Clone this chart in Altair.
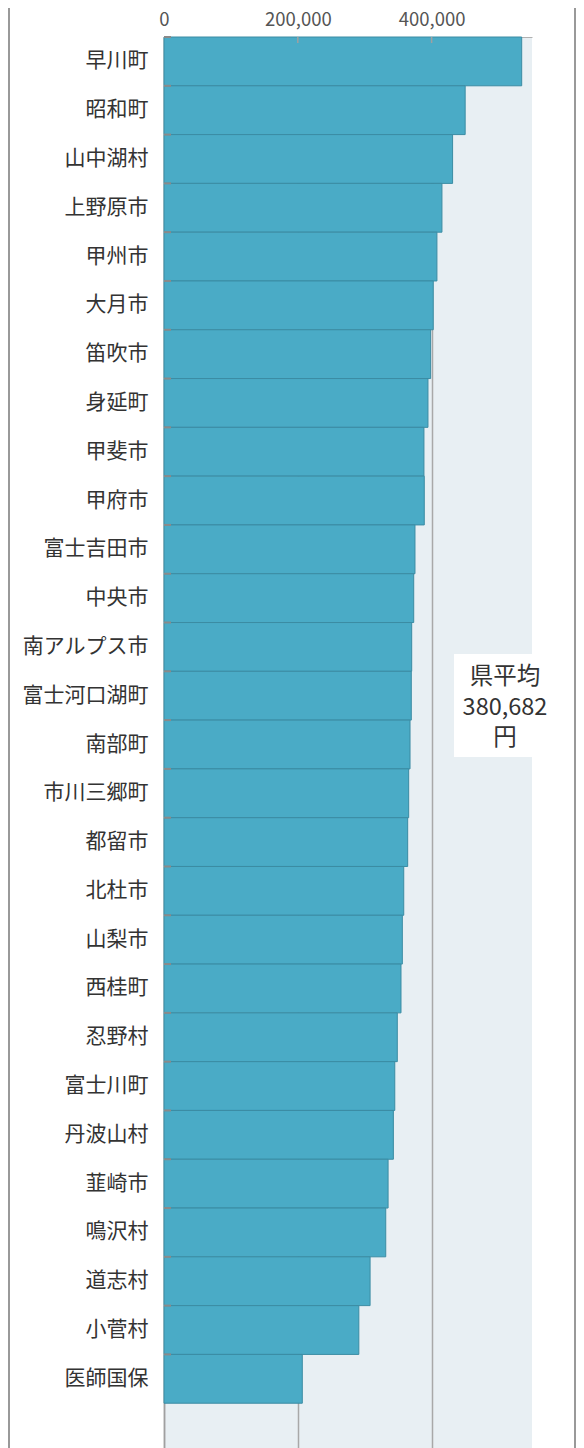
import altair as alt
import pandas as pd

names = ["早川町", "昭和町", "山中湖村", "上野原市", "甲州市", "大月市", "笛吹市", "身延町",
         "甲斐市", "甲府市", "富士吉田市", "中央市", "南アルプス市", "富士河口湖町", "南部町",
         "市川三郷町", "都留市", "北杜市", "山梨市", "西桂町", "忍野村", "富士川町", "丹波山村",
         "韮崎市", "鳴沢村", "道志村", "小菅村", "医師国保"]
values = [534600, 450100, 431300, 415400, 407900, 402400, 398500, 394500,
          388500, 389000, 375100, 373200, 370200, 369600, 367700,
          365700, 364200, 358300, 356200, 354200, 348700, 344900, 342800,
          334900, 331400, 308000, 291200, 206700]
x_ticks = [0, 200000, 400000]
x_max = 550000
avg_label = "県平均"
avg_value = 380682
avg_unit = "円"

FONT = "Noto Sans CJK JP"
domain_y = names + [" "]

df = pd.DataFrame({"name": names, "value": values})
tick_df = pd.DataFrame({"t": x_ticks[1:]})

xs = alt.Scale(domain=[0, x_max], nice=False, zero=True)
ys = alt.Scale(domain=domain_y, paddingInner=0, paddingOuter=0)

bars = alt.Chart(df).mark_bar(
    fill="#4aabc6", stroke="#3b8ca3", strokeWidth=1
).encode(
    x=alt.X("value:Q", scale=xs,
            axis=alt.Axis(orient="top", values=x_ticks, format=",.0f", title=None,
                          grid=True, gridColor="#a8a8a8", gridWidth=1.5,
                          ticks=False, domain=True, domainColor="#b0b0b0",
                          labelFontSize=18.5, labelColor="#555555", labelFont=FONT,
                          labelPadding=8, labelFlush=False)),
    y=alt.Y("name:N", scale=ys, sort=domain_y,
            axis=alt.Axis(title=None, ticks=False, domain=True, domainColor="#a0a0a0",
                          domainWidth=1.5, labelFontSize=21, labelColor="#333333",
                          labelFont=FONT, labelPadding=16, grid=False)),
)

ytick = alt.Chart(df).mark_rule(stroke="#8a8a8a", strokeWidth=2).encode(
    y=alt.Y("name:N", scale=ys, sort=domain_y, bandPosition=0),
    x=alt.value(0), x2=alt.value(7),
)

xtick = alt.Chart(tick_df).mark_rule(stroke="#a0a0a0", strokeWidth=1.5).encode(
    x=alt.X("t:Q", scale=xs),
    y=alt.value(0), y2=alt.value(6),
)

box = alt.Chart(pd.DataFrame({"a": [0]})).mark_rect(fill="white").encode(
    x=alt.value(290), x2=alt.value(400), y=alt.value(617), y2=alt.value(720),
)

ann = alt.Chart(pd.DataFrame({"a": [0]})).mark_text(
    font=FONT, fontSize=23.5, color="#333333", align="center", baseline="middle",
    lineHeight=30.5
).encode(
    x=alt.value(341), y=alt.value(640),
    text=alt.value([avg_label, f"{avg_value:,}", avg_unit]),
)

frame_l = alt.Chart(pd.DataFrame({"a": [0]})).mark_rule(stroke="#999999", strokeWidth=2).encode(
    x=alt.value(-155), y=alt.value(-29), y2=alt.value(1440),
)
frame_r = alt.Chart(pd.DataFrame({"a": [0]})).mark_rule(stroke="#999999", strokeWidth=2).encode(
    x=alt.value(411), y=alt.value(-29), y2=alt.value(1440),
)

chart = alt.layer(bars, ytick, xtick, box, ann, frame_l, frame_r).properties(
    width=368, height=1415,
    autosize=alt.AutoSizeParams(type="none"),
    padding={"left": 156, "top": 29, "right": 44, "bottom": 0},
).configure_view(fill="#e8eff3", stroke=None)

chart.save("out.html", embed_options={"renderer": "svg", "actions": False})
